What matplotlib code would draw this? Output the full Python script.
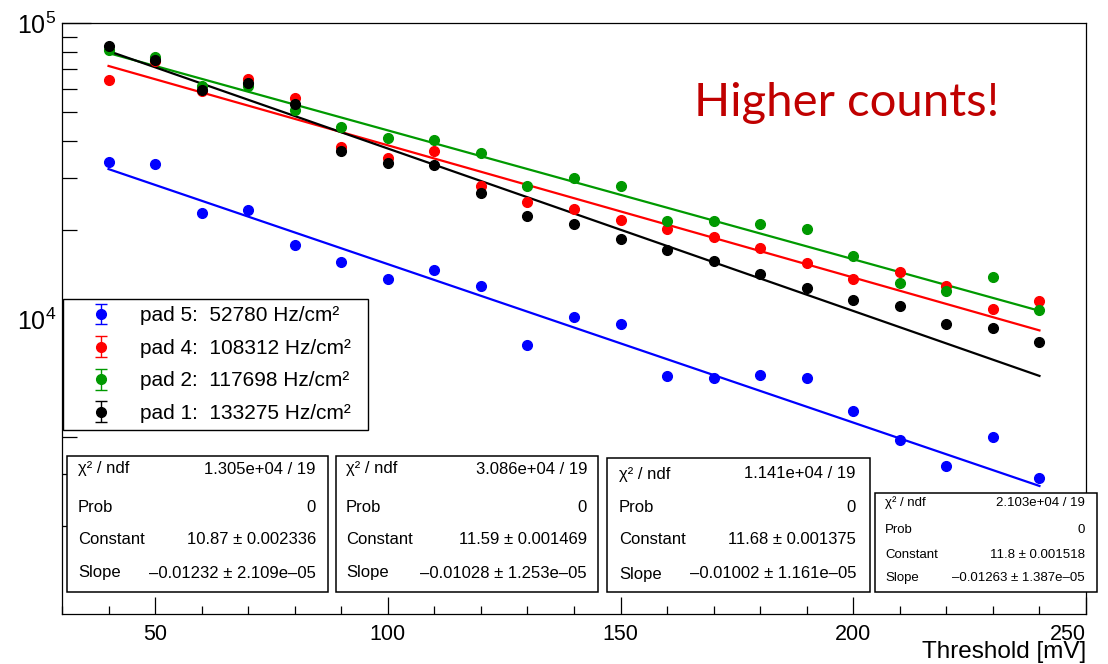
import numpy as np
import matplotlib
matplotlib.use("Agg")
import matplotlib.pyplot as plt
from matplotlib.patches import Rectangle
from matplotlib.ticker import FixedLocator, MultipleLocator, LogLocator, NullFormatter

plt.rcParams['font.family'] = ['Liberation Sans', 'DejaVu Sans']
plt.rcParams['mathtext.fontset'] = 'custom'
plt.rcParams['mathtext.rm'] = 'Liberation Sans'
plt.rcParams['mathtext.it'] = 'Liberation Sans:italic'

W, H = 1108, 664

# threshold scan, counts per pad
threshold = [40, 50, 60, 70, 80, 90, 100, 110, 120, 130, 140,
             150, 160, 170, 180, 190, 200, 210, 220, 230, 240]
pad5 = [34000, 33300, 22800, 23300, 17750, 15600, 13700, 14700, 12900, 8150, 10150,
        9600, 6450, 6350, 6500, 6350, 4900, 3900, 3200, 4000, 2900]
pad4 = [64300, 74200, 59000, 64700, 55800, 38100, 34900, 37000, 28200, 24800, 23500,
        21700, 20100, 19000, 17400, 15500, 13700, 14400, 12900, 10800, 11500]
pad2 = [80900, 76800, 61100, 61100, 50900, 44500, 40800, 40300, 36300, 28100, 29900,
        28200, 21500, 21500, 20900, 20100, 16400, 13200, 12400, 13900, 10700]
pad1 = [83900, 74800, 59500, 62700, 53400, 36900, 33700, 33100, 26600, 22300, 20900,
        18700, 17100, 15700, 14200, 12700, 11600, 11100, 9600, 9300, 8400]

labels = ["pad 5:  52780 Hz/cm\u00b2", "pad 4:  108312 Hz/cm\u00b2",
          "pad 2:  117698 Hz/cm\u00b2", "pad 1:  133275 Hz/cm\u00b2"]
colors = ["#0000ff", "#ff0000", "#009900", "#000000"]
x_major = [50, 100, 150, 200, 250]

# expo fit results (constant, slope) and stat box strings
fit_const = [10.87, 11.59, 11.68, 11.8]
fit_slope = [-0.01232, -0.01028, -0.01002, -0.01263]
chi2 = ["1.305e+04 / 19", "3.086e+04 / 19", "1.141e+04 / 19", "2.103e+04 / 19"]
const_txt = ["10.87 \u00b1 0.002336", "11.59 \u00b1 0.001469", "11.68 \u00b1 0.001375", "11.8 \u00b1 0.001518"]
slope_txt = ["\u20130.01232 \u00b1 2.109e\u201305", "\u20130.01028 \u00b1 1.253e\u201305",
             "\u20130.01002 \u00b1 1.161e\u201305", "\u20130.01263 \u00b1 1.387e\u201305"]

series = [pad5, pad4, pad2, pad1]

fig = plt.figure(figsize=(W / 100, H / 100), dpi=100)
ax = fig.add_axes([62 / W, 1 - 614 / H, (1086 - 62) / W, (614 - 23) / H])

xs = np.linspace(threshold[0], threshold[-1], 200)
for ys, c, k, s in zip(series, colors, fit_const, fit_slope):
    ax.plot(threshold, ys, 'o', color=c, ms=7, mec=c, zorder=3)
    ax.plot(xs, np.exp(k + s * xs), '-', color=c, lw=1.6, zorder=2)

ax.set_yscale('log')
ax.set_xlim(30, 250)
ax.set_ylim(1010, 1e5)

ax.set_xticks(x_major, [str(v) for v in x_major])
ax.xaxis.set_minor_locator(MultipleLocator(10))
ax.yaxis.set_major_locator(FixedLocator([1e4, 1e5]))
ax.yaxis.set_minor_locator(LogLocator(base=10, subs=np.arange(2, 10)))
ax.yaxis.set_minor_formatter(NullFormatter())
ax.set_yticklabels([r'$\mathregular{10^{4}}$', r'$\mathregular{10^{5}}$'])

ax.tick_params(which='both', direction='in', top=False, right=False, width=0.9)
ax.tick_params(axis='x', which='major', length=12, labelsize=15.5, pad=7)
ax.tick_params(axis='x', which='minor', length=6)
ax.tick_params(axis='y', which='major', length=21, labelsize=18, pad=4)
ax.tick_params(axis='y', which='minor', length=10.5)
for sp in ax.spines.values():
    sp.set_linewidth(0.9)

# last x label is pulled inside the frame in the original
ax.xaxis.get_major_ticks()[-1].label1.set_horizontalalignment('right')

# axis title sits right-aligned under the tick labels, like ROOT
fig.text(1086 / W, 1 - 652 / H, "Threshold [mV]", fontsize=17.5, ha='right', va='center')

# legend with error-bar style handles
handles = [ax.errorbar([np.nan], [np.nan], yerr=[1], fmt='o', color=c, ms=7,
                       capsize=4, elinewidth=1, capthick=1)
           for c in colors]
leg = ax.legend(handles, labels, loc='upper left',
                bbox_to_anchor=(63 / W, 1 - 432 / H, 305 / W, 133 / H),
                bbox_transform=fig.transFigure, mode='expand', fontsize=15,
                frameon=True, fancybox=False, edgecolor='black', framealpha=1,
                borderpad=0.35, handlelength=2.9, handletextpad=0.45,
                labelspacing=0.65, borderaxespad=0)
leg.get_frame().set_linewidth(1.0)


def stat_box(x0, y0, x1, y1, rows, lx, rx, fs, texts):
    fig.add_artist(Rectangle((x0 / W, 1 - y1 / H), (x1 - x0) / W, (y1 - y0) / H,
                             transform=fig.transFigure, fill=True, facecolor='white',
                             edgecolor='black', lw=1.1, zorder=5))
    names = ["\u03c7\u00b2 / ndf", "Prob", "Constant", "Slope"]
    for yy, name, val in zip(rows, names, texts):
        fig.text(lx / W, 1 - yy / H, name, ha='left', va='center', fontsize=fs, zorder=6)
        fig.text(rx / W, 1 - yy / H, val, ha='right', va='center', fontsize=fs, zorder=6)


boxes = [
    (67, 456, 328, 592, [469, 507, 540, 573], 78, 316, 12),
    (336, 456, 598, 592, [469, 507, 540, 573], 346, 587, 12),
    (607, 458, 870, 592, [474, 508, 540, 574], 619, 856, 12),
    (875, 493, 1097, 592, [503, 530, 555, 578], 885, 1085, 9.5),
]
for i, b in enumerate(boxes):
    stat_box(*b, [chi2[i], "0", const_txt[i], slope_txt[i]])

fig.text(847 / W, 1 - 103 / H, "Higher counts!", color='#c00000', fontsize=34,
         family=['Lato', 'DejaVu Sans'], ha='center', va='center')

fig.savefig("out.png", dpi=100)
